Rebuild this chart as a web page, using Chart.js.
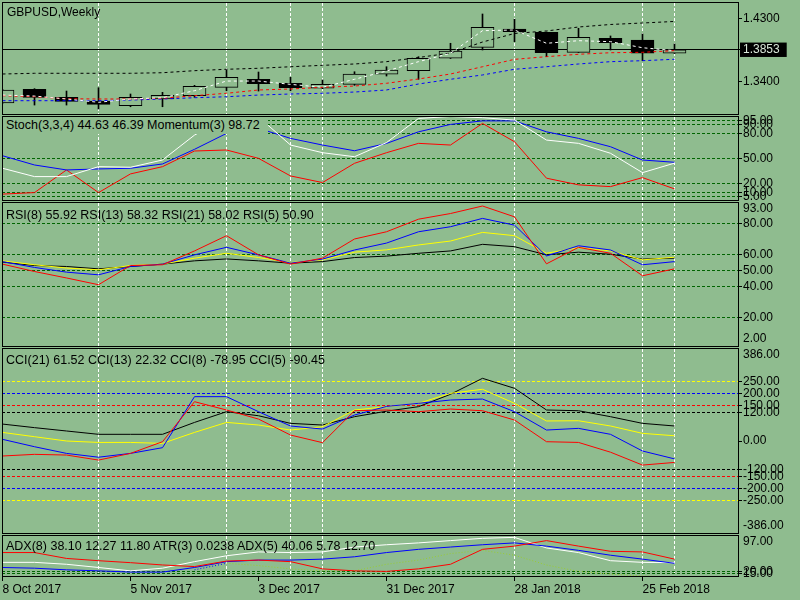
<!DOCTYPE html>
<html>
<head>
<meta charset="utf-8">
<title>GBPUSD, Weekly</title>
<script src="https://cdn.jsdelivr.net/npm/chart.js@4.4.0/dist/chart.umd.min.js"></script>
<style>
  body { margin: 0; background: #8fbc8f; }
  #wrap { position: relative; width: 800px; height: 600px; overflow: hidden; background: #8fbc8f;
          font-family: "Liberation Sans", Arial, sans-serif; font-size: 12.5px; color: #000; }
  canvas { position: absolute; left: 2px; }
  .frame { position: absolute; left: 2px; width: 737px; border: 1px solid #000; box-sizing: border-box;
           z-index: 2; pointer-events: none; }
  .ttl { position: absolute; left: 6px; z-index: 3; white-space: nowrap; line-height: 14px; }
</style>
</head>
<body>
<div id="wrap">
  <canvas id="cMain"  width="798" height="127" style="top:-5px"></canvas>
  <canvas id="cStoch" width="798" height="99"  style="top:109px"></canvas>
  <canvas id="cRsi"   width="798" height="159" style="top:195px"></canvas>
  <canvas id="cCci"   width="798" height="200" style="top:341px"></canvas>
  <canvas id="cAdx"   width="798" height="72"  style="top:528px"></canvas>

  <div class="frame" style="top:2px;height:113px"></div>
  <div class="frame" style="top:116px;height:85px"></div>
  <div class="frame" style="top:202px;height:145px"></div>
  <div class="frame" style="top:348px;height:186px"></div>
  <div class="frame" style="top:535px;height:42px"></div>

  <div class="ttl" style="left:7px;top:5px;font-size:12px">GBPUSD,Weekly</div>
  <div class="ttl" style="left:3px;top:117px;line-height:17px;padding:0 8px 0 3px;background:#8fbc8f">Stoch(3,3,4) 44.63 46.39 Momentum(3) 98.72</div>
  <div class="ttl" style="top:208px">RSI(8) 55.92 RSI(13) 58.32 RSI(21) 58.02 RSI(5) 50.90</div>
  <div class="ttl" style="top:353px">CCI(21) 61.52 CCI(13) 22.32 CCI(8) -78.95 CCI(5) -90.45</div>
  <div class="ttl" style="top:539px">ADX(8) 38.10 12.27 11.80 ATR(3) 0.0238 ADX(5) 40.06 5.78 12.70</div>
</div>
<script>
// weekly bars, 8 Oct 2017 .. 4 Mar 2018 (one value per week)
const opens  = [1.3097, 1.3291, 1.3178, 1.3125, 1.3059, 1.3154, 1.3201, 1.3320, 1.3433, 1.3377, 1.3306,
                1.3362, 1.3505, 1.3556, 1.3732, 1.3888, 1.4148, 1.4101, 1.3817, 1.4016, 1.3992, 1.3803];
const highs  = [1.3290, 1.3301, 1.3267, 1.3314, 1.3225, 1.3249, 1.3348, 1.3566, 1.3537, 1.3462, 1.3424,
                1.3541, 1.3612, 1.3755, 1.3945, 1.4361, 1.4286, 1.4105, 1.4158, 1.4049, 1.4077, 1.3935];
const lows   = [1.3090, 1.3068, 1.3068, 1.3012, 1.3044, 1.3044, 1.3178, 1.3272, 1.3267, 1.3272, 1.3300,
                1.3348, 1.3480, 1.3433, 1.3729, 1.3850, 1.3968, 1.3755, 1.3814, 1.3850, 1.3698, 1.3800];
const closes = [1.3282, 1.3178, 1.3121, 1.3078, 1.3178, 1.3206, 1.3334, 1.3462, 1.3371, 1.3314, 1.3362,
                1.3509, 1.3566, 1.3732, 1.3836, 1.4172, 1.4110, 1.3811, 1.4030, 1.3953, 1.3803, 1.3853];
const lastClose = 1.3853;

// moving averages on the price window
const maWhite = [1.3210, 1.3196, 1.3154, 1.3107, 1.3154, 1.3172, 1.3272, 1.3409, 1.3409, 1.3362, 1.3320,
                 1.3434, 1.3551, 1.3684, 1.3803, 1.4124, 1.4134, 1.3945, 1.3982, 1.3968, 1.3882, 1.3840];
const maRed   = [1.3201, 1.3186, 1.3158, 1.3154, 1.3154, 1.3164, 1.3201, 1.3235, 1.3282, 1.3296, 1.3320,
                 1.3338, 1.3377, 1.3438, 1.3509, 1.3612, 1.3717, 1.3755, 1.3789, 1.3811, 1.3817, 1.3840];
const maBlue  = [1.3130, 1.3130, 1.3130, 1.3130, 1.3139, 1.3154, 1.3172, 1.3186, 1.3210, 1.3225, 1.3235,
                 1.3253, 1.3282, 1.3367, 1.3434, 1.3495, 1.3576, 1.3612, 1.3651, 1.3684, 1.3698, 1.3718];
const maBlack = [1.3509, 1.3519, 1.3519, 1.3519, 1.3519, 1.3527, 1.3556, 1.3576, 1.3590, 1.3612, 1.3632,
                 1.3651, 1.3684, 1.3743, 1.3807, 1.3963, 1.4084, 1.4120, 1.4176, 1.4212, 1.4233, 1.4255];

// Stoch / Momentum window
const stochMain   = [38.5, 28.6, 28.6, 40.4, 39.7, 48.3, 77.9, 98.5, 99.6, 66.1, 57.0,
                     52.2, 69.0, 97.7, 100, 98.6, 95.7, 72.0, 68.1, 56.3, 33.3, 44.6];
const stochSignal = [53.4, 42.4, 36.5, 37.7, 38.5, 43.6, 61.0, 79.9, 86.0, 74.0, 66.1,
                     59.3, 68.0, 81.8, 90.6, 94.8, 94.8, 81.8, 74.0, 64.1, 48.3, 45.6];
const momentum    = [7.8, 9.6, 36.5, 9.6, 31.8, 40.4, 59.0, 60.2, 50.3, 29.4, 21.5,
                     44.4, 57.0, 68.1, 66.1, 91.8, 70.0, 26.7, 18.8, 16.7, 27.4, 14.0];

// RSI window
const rsi21 = [55.4, 53.2, 52.6, 51.1, 52.6, 54.1, 56.2, 57.4, 56.2, 54.7, 55.7,
               58.3, 59.2, 61.0, 62.5, 66.7, 65.2, 60.0, 61.7, 60.4, 57.3, 57.9];
const rsi13 = [56.2, 53.7, 51.6, 50.5, 53.2, 54.1, 57.9, 61.0, 58.3, 55.1, 56.8,
               61.7, 63.2, 66.3, 68.8, 74.3, 72.2, 61.0, 64.6, 62.5, 56.8, 58.5];
const rsi8  = [55.7, 52.0, 49.0, 47.3, 52.6, 54.1, 60.0, 64.8, 60.0, 54.7, 57.3,
               63.1, 67.5, 74.7, 77.9, 83.2, 78.9, 59.3, 65.8, 63.1, 53.7, 55.7];
const rsi5  = [54.1, 49.4, 45.3, 41.0, 53.2, 53.7, 62.5, 72.2, 60.0, 54.1, 57.9,
               70.1, 74.7, 82.7, 86.3, 91.1, 84.2, 54.3, 64.8, 61.0, 46.7, 51.1];

// CCI window
const cci21 = [71, 56, 42, 28, 28, 28, 78, 123, 106, 74, 67, 102, 125, 144, 196, 263, 221, 130, 127, 102, 74, 63];
const cci13 = [36, 18, 0, -6, -6, -10, 36, 78, 67, 46, 60, 130, 144, 158, 200, 217, 158, 84, 85, 63, 32, 22];
const cci8  = [7, -24, -52, -68, -52, -28, 186, 186, 123, 63, 50, 109, 145, 158, 172, 176, 123, 46, 53, 28, -42, -75];
const cci5  = [-63, -56, -59, -80, -52, -3, 165, 130, 92, 25, -7, 127, 130, 123, 134, 127, 88, -3, -6, -47, -101, -90];

// ADX / ATR window
const adxRed   = [61, 61, 48.2, 43.3, 39, 34, 30.5, 42.5, 44.6, 41.2, 25.5,
                  21.2, 20, 25.5, 35.5, 68, 75, 87, 75, 63.7, 62.4, 46.7];
const adxWhite = [39.7, 39.7, 35.5, 28.5, 21.2, 27, 41.2, 54, 62.4, 61, 62.4,
                  73, 78, 82, 87, 92, 94, 71, 61, 43.3, 39.7, 39];
const adxBlue  = [28.5, 27, 23.4, 21.2, 18.5, 18.5, 28.5, 41.2, 44.6, 44.6, 46.7,
                  51.8, 61, 68, 73, 78, 82, 75, 65.8, 55.2, 46.7, 37.6];
const atrDots  = [null, null, null, null, null, null, 23.4, 37.6, 32.7, 25.5, 21.2,
                  21.2, 35.5, 44.6, 58.8, 65.8, 55.2, 34, 20, 14.2, 10, 8];

// axis levels and labels
const priceTicks = [1.34, lastClose, 1.43];
const stochLevels = [5, 10, 20, 50, 80, 90, 95];
const rsiLevels = [20, 40, 50, 60, 80];
const cciLevels = [-250, -200, -150, -120, 0, 120, 150, 200, 250];
const cciLevelColors = ['#ffff00', '#0000ff', '#ff0000', '#000000', null, '#000000', '#ff0000', '#0000ff', '#ffff00'];
const adxLevels = [15, 20];

const xLabelIdx = [0, 4, 8, 12, 16, 20];
const xLabels = ['8 Oct 2017', '5 Nov 2017', '3 Dec 2017', '31 Dec 2017', '28 Jan 2018', '25 Feb 2018'];
const gridIdx = [3, 7, 9, 10, 16, 20, 21];
const xTicks = [...new Set(xLabelIdx.concat(gridIdx))].sort((a, b) => a - b);

const BG = '#8fbc8f';
const LEVEL = '#006400';
const NONE = 'rgba(0,0,0,0)';

Chart.defaults.font.family = '"Liberation Sans", Arial, sans-serif';
Chart.defaults.font.size = 12;
Chart.defaults.color = '#000';

function pts(arr) {
    return arr.map((v, i) => ({ x: i, y: v }));
}

function line(data, color, dash) {
    return {
        type: 'line', data: pts(data), borderColor: color, borderWidth: 1,
        borderDash: dash || [], pointRadius: 0, tension: 0, order: 0
    };
}

function xScale(bottom) {
    return {
        type: 'linear', min: -0.015625, max: 22.984375, offset: false,
        afterBuildTicks: s => { s.ticks = xTicks.map(v => ({ value: v })); },
        afterFit: s => { s.paddingLeft = 0; s.paddingRight = 0; s.height = bottom ? 24 : 0; },
        border: { display: false, dash: [3, 2] },
        grid: {
            offset: false,
            color: c => (c.tick && gridIdx.includes(c.tick.value)) ? '#ffffff' : NONE,
            drawTicks: bottom, tickLength: 5, tickBorderDash: [1, 0],
            tickColor: c => (c.tick && xLabelIdx.includes(c.tick.value)) ? '#000' : NONE
        },
        ticks: {
            display: bottom, autoSkip: false, maxRotation: 0, align: 'start', padding: 1,
            callback: v => { const k = xLabelIdx.indexOf(v); return k >= 0 ? xLabels[k] : ''; }
        }
    };
}

function yScale(min, max, levels, gridColor, digits) {
    return {
        position: 'right', min: min, max: max,
        afterBuildTicks: s => { s.ticks = levels.map(v => ({ value: v })); },
        afterFit: s => { s.width = 62; s.paddingTop = 0; s.paddingBottom = 0; },
        border: { display: false, dash: [3, 2] },
        grid: { color: gridColor, drawTicks: true, tickLength: 4, tickColor: '#000', tickBorderDash: [1, 0] },
        ticks: { padding: 1, autoSkip: false, callback: v => Number(v).toFixed(digits) }
    };
}

// min / max labels are pushed inside the window like the terminal does
function edgeLabels(items) {
    return {
        id: 'edgeLabels',
        afterDraw(chart) {
            const { ctx, chartArea: a } = chart;
            const y = chart.scales.y;
            ctx.save();
            ctx.font = '12px "Liberation Sans", Arial, sans-serif';
            ctx.fillStyle = '#000';
            ctx.textAlign = 'left';
            ctx.textBaseline = 'middle';
            items.forEach(([v, t]) => {
                const py = Math.min(Math.max(y.getPixelForValue(v), a.top + 6), a.bottom - 7);
                ctx.fillText(t, a.right + 5, py);
            });
            ctx.restore();
        }
    };
}

function panel(id, datasets, y, opts) {
    opts = opts || {};
    return new Chart(document.getElementById(id), {
        type: 'line',
        data: { datasets: datasets },
        options: {
            responsive: false, animation: false, events: [],
            layout: { padding: { top: 8, bottom: opts.bottom ? 0 : 8, left: 0, right: 0 } },
            plugins: { legend: { display: false }, tooltip: { enabled: false } },
            scales: { x: xScale(!!opts.bottom), y: y }
        },
        plugins: opts.edges ? [edgeLabels(opts.edges)] : []
    });
}

// price window
const mainY = yScale(1.2941, 1.4517, priceTicks,
    c => (c.tick && c.tick.value === lastClose) ? '#000' : NONE, 4);
mainY.border.dash = c => (c.tick && c.tick.value === lastClose) ? [] : [3, 2];
mainY.ticks.showLabelBackdrop = c => !!(c.tick && c.tick.value === lastClose);
mainY.ticks.backdropColor = '#000';
mainY.ticks.backdropPadding = { top: 0, bottom: 0, left: 3, right: 7 };
mainY.ticks.color = c => (c.tick && c.tick.value === lastClose) ? '#d8e6d8' : '#000';

panel('cMain', [
    line(maWhite, '#ffffff', [3, 3]),
    line(maRed, '#ff0000', [3, 3]),
    line(maBlue, '#0000ff', [3, 3]),
    line(maBlack, '#000000', [3, 3]),
    {
        type: 'bar', order: 1, grouped: false, barThickness: 23,
        data: opens.map((o, i) => ({ x: i, y: [o, closes[i]] })),
        backgroundColor: c => closes[c.dataIndex] < opens[c.dataIndex] ? '#000' : BG,
        borderColor: '#000', borderWidth: 1, borderSkipped: false
    },
    {
        type: 'bar', order: 2, grouped: false, barThickness: 1,
        data: lows.map((l, i) => ({ x: i, y: [l, highs[i]] })),
        backgroundColor: '#000', borderWidth: 0
    }
], mainY);

panel('cStoch', [
    line(stochMain, '#ffffff'),
    line(stochSignal, '#0000ff'),
    line(momentum, '#ff0000')
], yScale(0.8, 99.4, stochLevels, LEVEL, 2));

panel('cRsi', [
    line(rsi5, '#ff0000'),
    line(rsi8, '#0000ff'),
    line(rsi13, '#ffff00'),
    line(rsi21, '#000000')
], yScale(2, 93, rsiLevels, LEVEL, 2), { edges: [[93, '93.00'], [2, '2.00']] });

panel('cCci', [
    line(cci5, '#ff0000'),
    line(cci8, '#0000ff'),
    line(cci13, '#ffff00'),
    line(cci21, '#000000')
], yScale(-386, 386, cciLevels, c => {
    const k = c.tick ? cciLevels.indexOf(c.tick.value) : -1;
    return k >= 0 && cciLevelColors[k] ? cciLevelColors[k] : NONE;
}, 2), { edges: [[386, '386.00'], [-386, '-386.00']] });

const dots = line(atrDots, '#9acd32', [1, 2]);
dots.segment = { borderColor: c => c.p1DataIndex <= 7 ? '#0000ff' : undefined };
panel('cAdx', [
    line(adxRed, '#ff0000'),
    line(adxBlue, '#0000ff'),
    line(adxWhite, '#ffffff'),
    dots
], yScale(10, 97, adxLevels, LEVEL, 2), { bottom: true, edges: [[97, '97.00']] });
</script>
</body>
</html>
